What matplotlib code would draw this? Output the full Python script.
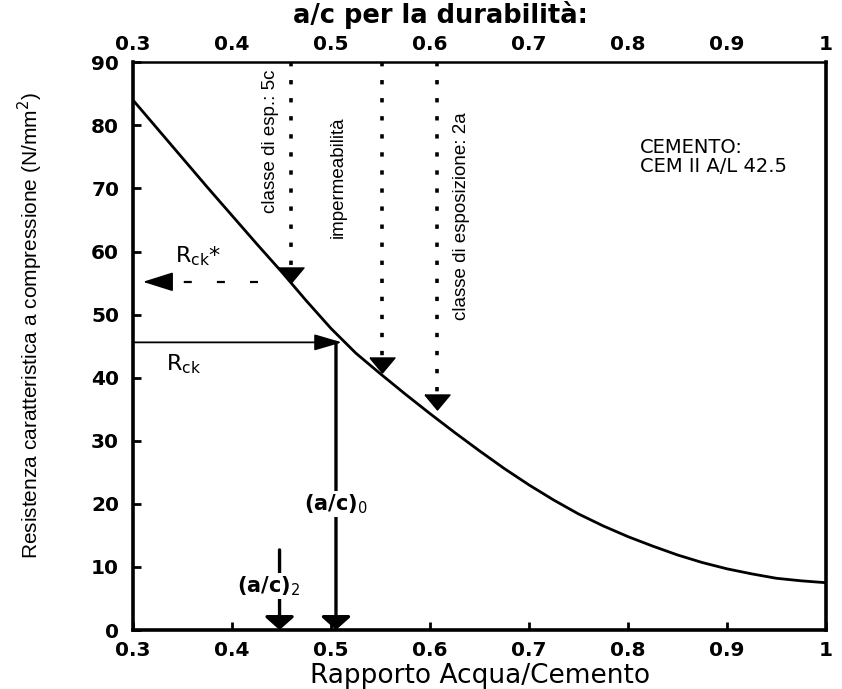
import matplotlib
matplotlib.use('Agg')
import matplotlib.pyplot as plt

# ---------------- data ----------------
ac_ratio = [0.300, 0.325, 0.350, 0.375, 0.400, 0.425, 0.450, 0.475, 0.500, 0.525,
            0.550, 0.575, 0.600, 0.625, 0.650, 0.675, 0.700, 0.725, 0.750, 0.775,
            0.800, 0.825, 0.850, 0.875, 0.900, 0.925, 0.950, 0.975, 1.000]
rck_curve = [84.0, 79.4, 74.8, 70.2, 65.7, 61.2, 56.8, 52.2, 47.8, 43.9,
             40.6, 37.4, 34.3, 31.3, 28.4, 25.6, 23.0, 20.6, 18.4, 16.5,
             14.8, 13.3, 11.9, 10.7, 9.7, 8.9, 8.2, 7.8, 7.5]

x_ticks = [0.3, 0.4, 0.5, 0.6, 0.7, 0.8, 0.9, 1.0]
x_ticklabels = ['0.3', '0.4', '0.5', '0.6', '0.7', '0.8', '0.9', '1']
y_ticks = [0, 10, 20, 30, 40, 50, 60, 70, 80, 90]

# durability limits (dotted arrows)
dur_x = [0.46, 0.551, 0.607]
dur_tri_y = [56.3, 42.0, 36.1]
dur_labels = ['classe di esp.: 5c', 'impermeabilità', 'classe di esposizione: 2a']
dur_label_x = [0.439, 0.507, 0.632]
dur_label_y = [77.5, 71.8, 65.6]

rck_value = 45.6
rck_star_value = 55.2
ac0 = 0.505
ac2 = 0.448

WIDE = 'DejaVu Sans'
NARROW = 'Liberation Sans'

fig = plt.figure(figsize=(8.42, 6.89), dpi=100)
ax = fig.add_axes([0.158, 0.0856, 0.823, 0.824])

ax.plot(ac_ratio, rck_curve, color='black', lw=2.0, zorder=3)

ax.set_xlim(0.3, 1.0)
ax.set_ylim(0, 90)
ax.set_xticks(x_ticks)
ax.set_xticklabels(x_ticklabels)
ax.set_yticks(y_ticks)
ax.tick_params(direction='in', length=6, width=2)
ax.tick_params(axis='x', pad=8)
ax.tick_params(axis='y', pad=10)
for lab in ax.get_xticklabels() + ax.get_yticklabels():
    lab.set_fontfamily(WIDE)
    lab.set_fontweight('bold')
    lab.set_fontsize(14.5)
for side in ['left', 'bottom', 'right']:
    ax.spines[side].set_linewidth(2.6)
ax.spines['top'].set_linewidth(1.8)

# top axis
ax2 = ax.twiny()
ax2.set_xlim(0.3, 1.0)
ax2.set_xticks(x_ticks)
ax2.set_xticklabels(x_ticklabels)
ax2.tick_params(length=0, pad=6)
for lab in ax2.get_xticklabels():
    lab.set_fontfamily(WIDE)
    lab.set_fontweight('bold')
    lab.set_fontsize(14.5)
for s in ax2.spines.values():
    s.set_visible(False)

fig.text(0.523, 0.978, 'a/c per la durabilità:', ha='center', va='center',
         family=WIDE, fontweight='bold', fontsize=18.5)
fig.text(0.570, 0.019, 'Rapporto Acqua/Cemento', ha='center', va='center',
         family=WIDE, fontsize=19)
fig.text(0.036, 0.528, 'Resistenza caratteristica a compressione (N/mm$^2$)',
         rotation=90, ha='center', va='center', family=NARROW, fontsize=15)

# durability dotted lines with triangles
tri = [(-1, 0.6), (1, 0.6), (0, -0.6), (-1, 0.6)]
for x, ty, lab, lx, ly in zip(dur_x, dur_tri_y, dur_labels, dur_label_x, dur_label_y):
    ax.plot([x, x], [90, ty], color='black', lw=2.6, linestyle=(0, (1.2, 3.8)),
            dash_capstyle='butt', zorder=2)
    ax.plot([x], [ty], marker=tri, markersize=18, color='black', zorder=4, linestyle='none')
    ax.text(lx, ly, lab, rotation=90, ha='center', va='center',
            family=NARROW, fontsize=13.5)

# Rck* dashed arrow
ax.plot([0.426, 0.337], [rck_star_value, rck_star_value], color='black', lw=1.6,
        linestyle=(0, (3.6, 11.3)), zorder=2)
ax.annotate('', xy=(0.31, rck_star_value), xytext=(0.338, rck_star_value),
            arrowprops=dict(arrowstyle='-|>,head_length=1.9,head_width=0.6',
                            mutation_scale=10, color='black', lw=1.2,
                            shrinkA=0, shrinkB=0))
ax.text(0.342, 59.3, 'R$_{\\mathrm{ck}}$*', ha='left', va='center', family=WIDE, fontsize=16)

# Rck arrow
ax.annotate('', xy=(0.511, rck_value), xytext=(0.30, rck_value),
            arrowprops=dict(arrowstyle='-|>,head_length=1.7,head_width=0.5',
                            mutation_scale=10, color='black', lw=1.3,
                            shrinkA=0, shrinkB=0))
ax.text(0.333, 42.2, 'R$_{\\mathrm{ck}}$', ha='left', va='center', family=WIDE, fontsize=16)

# (a/c)0 vertical arrow
ax.annotate('', xy=(ac0, 0), xytext=(ac0, rck_value),
            arrowprops=dict(arrowstyle='-|>,head_length=0.8,head_width=0.9',
                            mutation_scale=10, color='black', lw=2.4,
                            shrinkA=0, shrinkB=0))
ax.text(ac0, 20, '(a/c)$_0$', ha='center', va='center', family=WIDE,
        fontweight='bold', fontsize=15,
        bbox=dict(facecolor='white', edgecolor='none', pad=1))

# (a/c)2 short arrow
ax.annotate('', xy=(ac2, 0), xytext=(ac2, 12.7),
            arrowprops=dict(arrowstyle='-|>,head_length=0.8,head_width=0.9',
                            mutation_scale=10, color='black', lw=2.4,
                            shrinkA=0, shrinkB=0))
ax.text(0.437, 7.0, '(a/c)$_2$', ha='center', va='center', family=WIDE,
        fontweight='bold', fontsize=15,
        bbox=dict(facecolor='white', edgecolor='none', pad=1))

# cement annotation
ax.text(0.812, 75.0, 'CEMENTO:\nCEM II A/L 42.5', ha='left', va='center',
        family=WIDE, fontsize=14, linespacing=1.05)

fig.savefig('out.png', dpi=100)
